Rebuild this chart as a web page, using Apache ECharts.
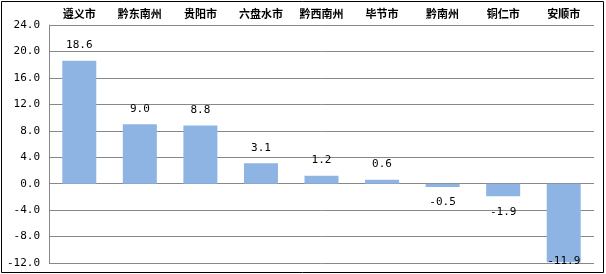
<!DOCTYPE html>
<html>
<head>
<meta charset="utf-8">
<script src="https://cdn.jsdelivr.net/npm/echarts@6/dist/echarts.min.js"></script>
<style>
  html, body { margin: 0; padding: 0; background: #fff; }
  #main { width: 606px; height: 274px; }
</style>
</head>
<body>
<div id="main"></div>
<script>
// 地区
var cities = ['遵义市', '黔东南州', '贵阳市', '六盘水市', '黔西南州', '毕节市', '黔南州', '铜仁市', '安顺市'];
// 数值
var values = [18.6, 9.0, 8.8, 3.1, 1.2, 0.6, -0.5, -1.9, -11.9];
// y轴刻度
var yMin = -12, yMax = 24, yStep = 4;

var numFont = 'DejaVu Sans Mono';

var barData = values.map(function (v) {
  var lbl = { position: v >= 0 ? 'top' : 'bottom' };
  if (v < yMin + 2) { lbl = { position: 'insideBottom', distance: 0, offset: [0, 4] }; }
  return { value: v, label: lbl };
});

var chart = echarts.init(document.getElementById('main'));
chart.setOption({
  animation: false,
  grid: { left: 49, right: 12, top: 25, bottom: 11 },
  xAxis: {
    type: 'category',
    position: 'top',
    data: cities,
    axisLine: { show: false },
    axisTick: { show: false },
    axisLabel: {
      margin: 6,
      color: '#000',
      fontWeight: 'bold',
      fontSize: 11,
      fontFamily: 'Noto Sans CJK SC'
    }
  },
  yAxis: {
    type: 'value',
    min: yMin,
    max: yMax,
    interval: yStep,
    axisLine: { show: true, lineStyle: { color: '#888', width: 1 } },
    axisTick: { show: false },
    splitLine: { lineStyle: { color: '#888', width: 1 } },
    axisLabel: {
      margin: 9,
      color: '#000',
      fontSize: 11,
      fontFamily: numFont,
      formatter: function (v) { return v.toFixed(1); }
    }
  },
  series: [{
    type: 'bar',
    data: barData,
    barWidth: 34,
    itemStyle: { color: '#8EB4E3' },
    label: {
      show: true,
      distance: 10,
      color: '#000',
      fontSize: 11,
      fontFamily: numFont,
      formatter: function (p) { return p.value.toFixed(1); }
    }
  }],
  graphic: [{
    type: 'rect',
    shape: { x: 1.5, y: 1.5, width: 602, height: 271 },
    style: { fill: 'none', stroke: '#000', lineWidth: 1 },
    silent: true
  }]
});
</script>
</body>
</html>
